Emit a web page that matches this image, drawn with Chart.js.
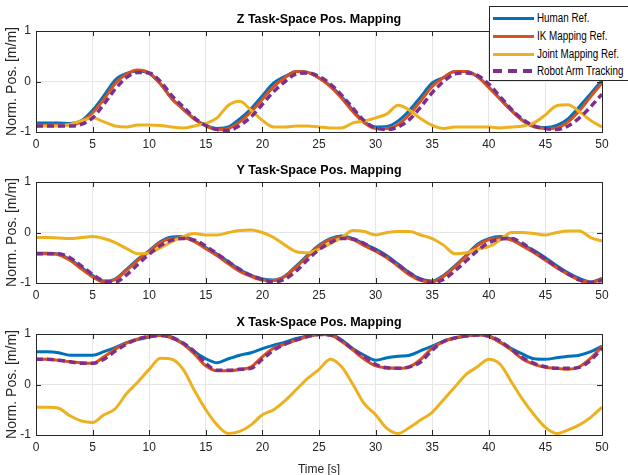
<!DOCTYPE html>
<html>
<head>
<meta charset="utf-8">
<script src="https://cdn.jsdelivr.net/npm/chart.js@4.4.1/dist/chart.umd.min.js"></script>
<style>
  body { margin: 0; background: #fff; }
  #wrap { position: relative; width: 628px; height: 475px; overflow: hidden; background: #fff; }
  canvas { position: absolute; left: 0; }
  #legend {
    position: absolute; left: 489px; top: 6px; width: 142px; height: 75px;
    border: 1px solid #262626; background: #fff; box-sizing: border-box;
    font-family: "Liberation Sans", Arial, sans-serif; font-size: 12px; color: #000;
  }
  .item { position: absolute; left: 3px; height: 18px; line-height: 18px; white-space: nowrap; }
  .sample { position: absolute; left: 0; top: 8px; width: 41px; height: 3px; }
  .label { position: absolute; left: 44px; top: 0; transform: scaleX(0.82); transform-origin: 0 50%; }
</style>
</head>
<body>
<div id="wrap">
  <canvas id="chartZ" width="628" height="152" style="top:0px"></canvas>
  <canvas id="chartY" width="628" height="152" style="top:151px"></canvas>
  <canvas id="chartX" width="628" height="180" style="top:303px"></canvas>
  <div id="legend"></div>
</div>
<script>
//time axis [s]
var time = [0,1,2,3,4,5,6,7,8,9,10,11,12,13,14,15,16,17,18,19,20,21,22,23,24,25,26,27,28,29,30,31,32,33,34,35,36,37,38,39,40,41,42,43,44,45,46,47,48,49,50];
var xTicks = [0,5,10,15,20,25,30,35,40,45,50];
var yTicks = [-1,0,1];
var seriesNames = ["Human Ref.", "IK Mapping Ref.", "Joint Mapping Ref.", "Robot Arm Tracking"];

//Z panel
var zHuman = [-0.82,-0.82,-0.82,-0.83,-0.78,-0.57,-0.28,0.03,0.16,0.21,0.16,-0.05,-0.34,-0.54,-0.74,-0.87,-0.93,-0.9,-0.74,-0.54,-0.28,-0.03,0.1,0.2,0.18,0.07,-0.08,-0.3,-0.57,-0.8,-0.9,-0.89,-0.78,-0.57,-0.3,-0.03,0.08,0.2,0.2,0.1,-0.11,-0.34,-0.57,-0.77,-0.89,-0.91,-0.87,-0.74,-0.5,-0.24,0.02];
var zIK = [-0.86,-0.86,-0.86,-0.86,-0.8,-0.62,-0.35,-0.04,0.15,0.23,0.17,-0.05,-0.34,-0.55,-0.75,-0.88,-0.95,-0.93,-0.8,-0.6,-0.35,-0.1,0.08,0.2,0.18,0.07,-0.1,-0.33,-0.6,-0.82,-0.93,-0.93,-0.85,-0.65,-0.38,-0.1,0.08,0.2,0.2,0.1,-0.12,-0.35,-0.58,-0.78,-0.9,-0.93,-0.92,-0.8,-0.58,-0.3,-0.03];
var zJoint = [-0.88,-0.88,-0.88,-0.85,-0.78,-0.72,-0.8,-0.88,-0.9,-0.86,-0.86,-0.87,-0.9,-0.92,-0.88,-0.83,-0.72,-0.47,-0.39,-0.57,-0.77,-0.9,-0.9,-0.88,-0.88,-0.9,-0.92,-0.92,-0.82,-0.78,-0.72,-0.64,-0.47,-0.57,-0.74,-0.87,-0.93,-0.9,-0.9,-0.9,-0.9,-0.92,-0.9,-0.88,-0.82,-0.66,-0.48,-0.46,-0.6,-0.77,-0.9];
var zRobot = [-0.88,-0.88,-0.88,-0.88,-0.85,-0.72,-0.45,-0.15,0.08,0.18,0.17,0.0,-0.28,-0.5,-0.72,-0.87,-0.95,-0.97,-0.87,-0.7,-0.45,-0.2,0.0,0.15,0.17,0.1,-0.05,-0.27,-0.53,-0.78,-0.92,-0.95,-0.9,-0.75,-0.5,-0.22,0.0,0.15,0.17,0.12,-0.05,-0.3,-0.55,-0.75,-0.88,-0.93,-0.95,-0.88,-0.72,-0.5,-0.25];

//Y panel
var yHuman = [-0.41,-0.41,-0.43,-0.53,-0.69,-0.85,-0.96,-0.92,-0.73,-0.53,-0.36,-0.18,-0.09,-0.08,-0.17,-0.3,-0.43,-0.58,-0.74,-0.85,-0.92,-0.94,-0.86,-0.66,-0.45,-0.25,-0.12,-0.07,-0.12,-0.23,-0.33,-0.46,-0.63,-0.8,-0.92,-0.96,-0.85,-0.66,-0.45,-0.23,-0.12,-0.08,-0.13,-0.25,-0.36,-0.5,-0.66,-0.8,-0.91,-0.98,-0.91];
var yIK = [-0.42,-0.42,-0.44,-0.55,-0.72,-0.88,-0.98,-0.93,-0.75,-0.55,-0.38,-0.2,-0.12,-0.11,-0.18,-0.32,-0.46,-0.62,-0.77,-0.87,-0.94,-0.95,-0.87,-0.68,-0.47,-0.27,-0.14,-0.1,-0.14,-0.26,-0.37,-0.5,-0.67,-0.84,-0.95,-0.98,-0.87,-0.68,-0.47,-0.26,-0.14,-0.11,-0.15,-0.27,-0.4,-0.55,-0.7,-0.83,-0.94,-0.99,-0.92];
var yJoint = [-0.1,-0.1,-0.11,-0.12,-0.1,-0.08,-0.12,-0.2,-0.32,-0.42,-0.4,-0.3,-0.18,-0.08,-0.02,-0.05,-0.05,0.0,0.04,0.05,0.0,-0.1,-0.25,-0.38,-0.4,-0.33,-0.22,-0.1,0.04,0.02,-0.05,0.0,0.02,0.02,-0.05,-0.12,-0.25,-0.42,-0.4,-0.33,-0.28,-0.15,0.0,0.0,-0.02,-0.05,0.0,0.03,0.03,-0.1,-0.17];
var yRobot = [-0.42,-0.42,-0.42,-0.5,-0.66,-0.83,-0.96,-0.98,-0.84,-0.63,-0.43,-0.26,-0.15,-0.12,-0.15,-0.27,-0.42,-0.58,-0.73,-0.85,-0.93,-0.98,-0.92,-0.76,-0.54,-0.34,-0.2,-0.12,-0.13,-0.22,-0.35,-0.48,-0.64,-0.8,-0.93,-0.99,-0.93,-0.76,-0.56,-0.36,-0.2,-0.13,-0.12,-0.22,-0.37,-0.52,-0.68,-0.82,-0.94,-0.99,-0.95];

//X panel
var xHuman = [0.65,0.65,0.63,0.58,0.58,0.58,0.65,0.73,0.83,0.89,0.94,0.98,0.94,0.81,0.65,0.51,0.43,0.51,0.58,0.63,0.71,0.78,0.84,0.91,0.96,0.99,0.99,0.88,0.71,0.58,0.48,0.53,0.56,0.58,0.67,0.76,0.86,0.92,0.96,0.99,0.96,0.84,0.71,0.6,0.51,0.5,0.53,0.56,0.58,0.65,0.76];
var xIK = [0.5,0.5,0.48,0.45,0.43,0.42,0.55,0.7,0.82,0.9,0.95,0.97,0.92,0.8,0.6,0.37,0.27,0.27,0.3,0.35,0.55,0.72,0.8,0.88,0.95,0.99,0.98,0.85,0.68,0.5,0.37,0.33,0.32,0.35,0.5,0.72,0.85,0.92,0.96,0.98,0.95,0.83,0.68,0.5,0.4,0.34,0.32,0.3,0.35,0.52,0.75];
var xJoint = [-0.45,-0.45,-0.47,-0.62,-0.72,-0.75,-0.6,-0.48,-0.18,0.05,0.3,0.52,0.5,0.3,-0.12,-0.5,-0.8,-0.97,-0.93,-0.8,-0.6,-0.5,-0.32,-0.1,0.12,0.3,0.5,0.35,0.0,-0.38,-0.6,-0.87,-0.97,-0.85,-0.7,-0.55,-0.3,-0.05,0.2,0.35,0.5,0.4,0.05,-0.3,-0.6,-0.85,-0.97,-0.9,-0.8,-0.65,-0.45];
var xRobot = [0.5,0.5,0.48,0.45,0.42,0.42,0.5,0.66,0.8,0.9,0.95,0.97,0.93,0.82,0.65,0.42,0.28,0.28,0.3,0.32,0.5,0.68,0.8,0.88,0.95,0.99,0.98,0.87,0.7,0.55,0.4,0.33,0.32,0.35,0.45,0.68,0.85,0.92,0.96,0.98,0.96,0.86,0.7,0.53,0.42,0.35,0.32,0.32,0.34,0.48,0.72];

var colors = ["#0072BD", "#D95319", "#EDB120", "#7E2F8E"];
var fontName = '"Liberation Sans", Arial, sans-serif';

//pair time with values
function toPoints(values) {
  var pts = [];
  for (var i = 0; i < time.length; i++) {
    pts.push({ x: time[i], y: values[i] });
  }
  return pts;
}

//matlab style box + inward ticks
var boxPlugin = {
  id: 'boxPlugin',
  afterDraw: function (chart) {
    var ctx = chart.ctx;
    var a = chart.chartArea;
    var xs = chart.scales.x;
    var ys = chart.scales.y;
    ctx.save();
    ctx.strokeStyle = '#262626';
    ctx.lineWidth = 1;
    ctx.strokeRect(Math.round(a.left) + 0.5, Math.round(a.top) + 0.5, Math.round(a.right - a.left), Math.round(a.bottom - a.top));
    ctx.beginPath();
    xTicks.forEach(function (v) {
      var px = Math.round(xs.getPixelForValue(v)) + 0.5;
      ctx.moveTo(px, a.bottom); ctx.lineTo(px, a.bottom - 5);
      ctx.moveTo(px, a.top); ctx.lineTo(px, a.top + 5);
    });
    yTicks.forEach(function (v) {
      var py = Math.round(ys.getPixelForValue(v)) + 0.5;
      ctx.moveTo(a.left, py); ctx.lineTo(a.left + 5, py);
      ctx.moveTo(a.right, py); ctx.lineTo(a.right - 5, py);
    });
    ctx.stroke();
    ctx.restore();
  }
};

function makeChart(id, title, human, ik, joint, robot, showTime) {
  var values = [human, ik, joint, robot];
  var datasets = [];
  for (var i = 0; i < values.length; i++) {
    datasets.push({
      label: seriesNames[i],
      data: toPoints(values[i]),
      borderColor: colors[i],
      borderWidth: i == 3 ? 3.5 : 3,
      borderDash: i == 3 ? [7, 4] : [],
      pointRadius: 0,
      cubicInterpolationMode: 'monotone',
      order: 3 - i
    });
  }
  return new Chart(document.getElementById(id).getContext('2d'), {
    type: 'line',
    data: { datasets: datasets },
    plugins: [boxPlugin],
    options: {
      responsive: false,
      animation: false,
      layout: { padding: { left: 0, right: 26, top: 0, bottom: 0 } },
      plugins: {
        legend: { display: false },
        tooltip: { enabled: false },
        title: {
          display: true,
          fullSize: false,
          text: title,
          color: '#000',
          font: { family: fontName, size: 12.5, weight: 'bold', lineHeight: 1.2 },
          padding: { top: 12.5, bottom: 3.5 }
        }
      },
      scales: {
        x: {
          type: 'linear', min: 0, max: 50,
          afterFit: function (s) { s.height = showTime ? 48 : 20; },
          afterBuildTicks: function (s) { s.ticks = xTicks.map(function (v) { return { value: v }; }); },
          grid: { color: '#e6e6e6', drawTicks: false },
          border: { display: false },
          ticks: { color: '#262626', font: { family: fontName, size: 12 }, padding: 5, maxRotation: 0 },
          title: { display: showTime, text: 'Time [s]', color: '#262626', font: { family: fontName, size: 12 }, padding: { top: 0, bottom: 6 } }
        },
        y: {
          type: 'linear', min: -1, max: 1,
          afterFit: function (s) { s.width = 36; },
          afterBuildTicks: function (s) { s.ticks = yTicks.map(function (v) { return { value: v }; }); },
          grid: { color: '#e6e6e6', drawTicks: false },
          border: { display: false },
          ticks: { color: '#262626', font: { family: fontName, size: 12 }, padding: 5 },
          title: { display: true, text: 'Norm. Pos. [m/m]', color: '#262626', font: { family: fontName, size: 14 }, padding: { top: 4, bottom: 0 } }
        }
      }
    }
  });
}

var chartZ = makeChart('chartZ', 'Z Task-Space Pos. Mapping', zHuman, zIK, zJoint, zRobot, false);
var chartY = makeChart('chartY', 'Y Task-Space Pos. Mapping', yHuman, yIK, yJoint, yRobot, false);
var chartX = makeChart('chartX', 'X Task-Space Pos. Mapping', xHuman, xIK, xJoint, xRobot, true);

//legend box over the top plot
var legend = document.getElementById('legend');
chartZ.data.datasets.forEach(function (ds, i) {
  var item = document.createElement('div');
  item.className = 'item';
  item.style.top = (2 + i * 17.8) + 'px';
  item.style.width = '136px';
  var sample = document.createElement('div');
  sample.className = 'sample';
  if (ds.borderDash.length) {
    sample.style.height = '4px';
    sample.style.top = '7px';
    sample.style.background = 'repeating-linear-gradient(90deg,' + ds.borderColor + ' 0 9px, transparent 9px 15px)';
  } else {
    sample.style.background = ds.borderColor;
  }
  var label = document.createElement('span');
  label.className = 'label';
  label.textContent = ds.label;
  item.appendChild(sample);
  item.appendChild(label);
  legend.appendChild(item);
});
</script>
</body>
</html>
